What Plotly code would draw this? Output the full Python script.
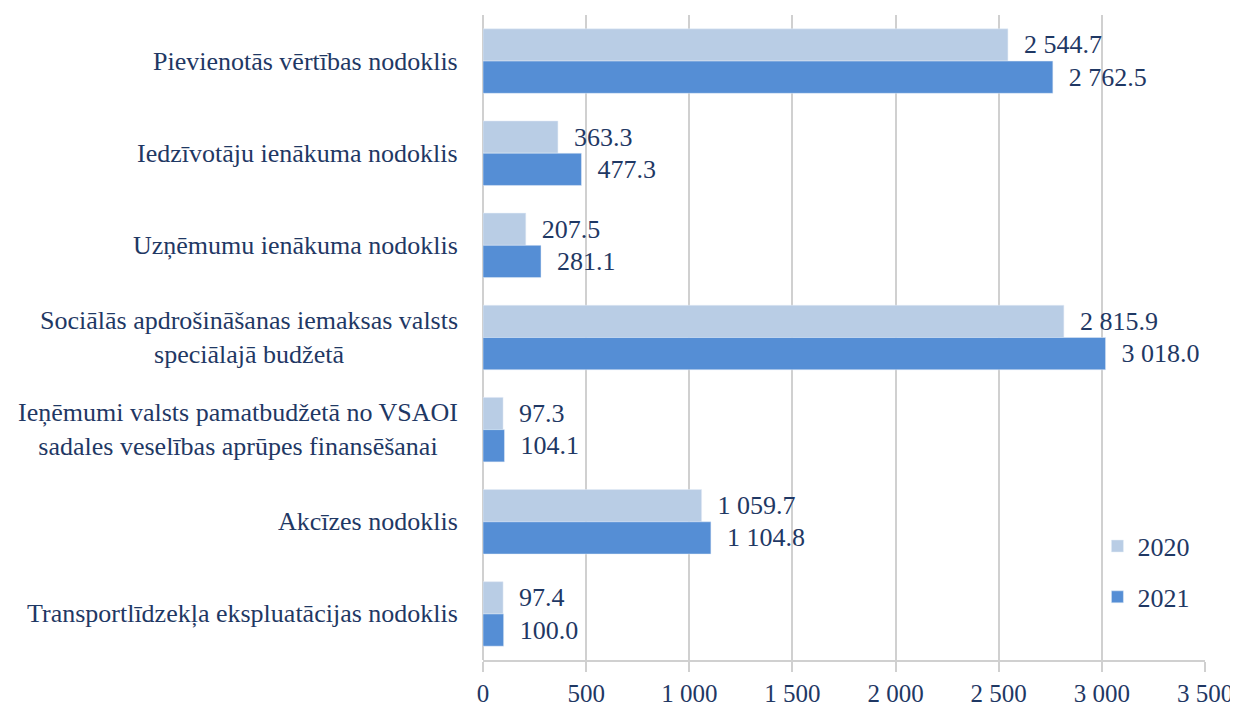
import plotly.graph_objects as go

categories = [
    "Pievienotās vērtības nodoklis",
    "Iedzīvotāju ienākuma nodoklis",
    "Uzņēmumu ienākuma nodoklis",
    "Sociālās apdrošināšanas iemaksas valsts<br>speciālajā budžetā",
    "Ieņēmumi valsts pamatbudžetā no VSAOI<br>sadales veselības aprūpes finansēšanai",
    "Akcīzes nodoklis",
    "Transportlīdzekļa ekspluatācijas nodoklis",
]
values_2020 = [2544.7, 363.3, 207.5, 2815.9, 97.3, 1059.7, 97.4]
values_2021 = [2762.5, 477.3, 281.1, 3018.0, 104.1, 1104.8, 100.0]
x_ticks = [0, 500, 1000, 1500, 2000, 2500, 3000, 3500]

NAVY = "#1F3864"
GRID = "#D0D0D0"
FONT = "Liberation Serif, Times New Roman, serif"
FS = 26

fig = go.Figure()
fig.add_trace(go.Bar(
    y=categories, x=values_2020, name="2020", orientation="h",
    marker_color="#B9CDE5", legendgroup="a",
    texttemplate="\u00a0\u00a0%{x:,.1f}", textposition="outside",
    textfont=dict(family=FONT, size=FS, color=NAVY), cliponaxis=False,
))
fig.add_trace(go.Bar(
    y=categories, x=values_2021, name="2021", orientation="h",
    marker_color="#558ED5", legendgroup="b",
    texttemplate="\u00a0\u00a0%{x:,.1f}", textposition="outside",
    textfont=dict(family=FONT, size=FS, color=NAVY), cliponaxis=False,
))

# category labels as centred annotations (multi-line text is centred in the source)
for cat in categories:
    fig.add_annotation(
        x=-0.032, xref="paper", y=cat, yref="y",
        text=cat, showarrow=False, xanchor="right", align="center",
        font=dict(family=FONT, size=FS, color=NAVY),
    )

# page body has an 8px margin, so the figure is a little smaller than the window
fig.update_layout(
    width=1230, height=698,
    margin=dict(l=475, r=33, t=7, b=46, autoexpand=False),
    plot_bgcolor="white", paper_bgcolor="white",
    barmode="group", bargap=0.3, bargroupgap=0,
    separators=". ",
    font=dict(family=FONT, size=FS, color=NAVY),
    legend=dict(
        x=0.851, y=0.213, xanchor="left", yanchor="top",
        font=dict(family=FONT, size=FS, color=NAVY),
        tracegroupgap=14, bgcolor="rgba(0,0,0,0)",
    ),
    xaxis=dict(
        range=[0, 3500], tickvals=x_ticks, tickformat=",d", automargin=False,
        showgrid=True, gridcolor=GRID, gridwidth=2,
        zeroline=True, zerolinecolor=GRID, zerolinewidth=2,
        showline=True, linecolor=GRID, linewidth=2,
        ticks="outside", ticklen=10, tickwidth=2, tickcolor=GRID,
        tickfont=dict(family=FONT, size=25, color=NAVY),
    ),
    yaxis=dict(
        autorange="reversed", showticklabels=False, showgrid=False,
        zeroline=False, ticks="", automargin=False,
    ),
)

fig.write_html("out.html")
